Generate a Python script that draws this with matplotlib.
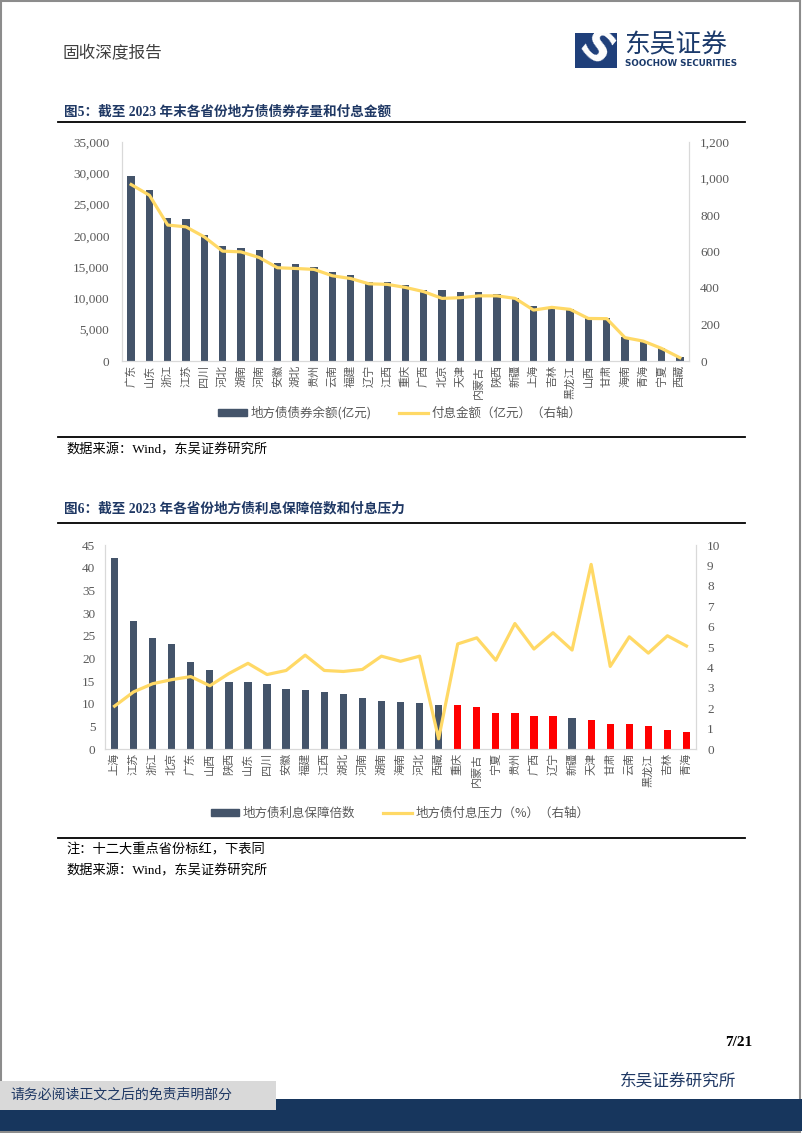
import numpy as np
import matplotlib.pyplot as plt
from matplotlib.patches import Rectangle, Patch
from matplotlib.lines import Line2D
from matplotlib.ticker import FuncFormatter

CJK = ['Noto Sans CJK SC', 'DejaVu Sans']
MIX = ['Liberation Serif', 'Noto Sans CJK SC']
plt.rcParams['font.family'] = CJK

# chart 1 data: debt balance (100m yuan) and interest paid
prov1 = ['广东', '山东', '浙江', '江苏', '四川', '河北', '湖南', '河南', '安徽', '湖北',
         '贵州', '云南', '福建', '辽宁', '江西', '重庆', '广西', '北京', '天津', '内蒙古',
         '陕西', '新疆', '上海', '吉林', '黑龙江', '山西', '甘肃', '海南', '青海', '宁夏', '西藏']
balance = [29500, 27400, 22800, 22700, 20200, 18300, 18100, 17800, 15600, 15500,
           15000, 14300, 13700, 12700, 12600, 12100, 11300, 11300, 11000, 10950,
           10700, 10000, 8800, 8700, 8300, 6800, 6900, 3900, 3100, 2000, 700]
interest = [967, 908, 745, 735, 680, 602, 598, 567, 511, 507,
            502, 467, 452, 423, 420, 403, 380, 343, 347, 357,
            357, 343, 279, 294, 283, 233, 232, 128, 109, 69, 18]

# chart 2 data: interest coverage ratio and interest pressure (%)
prov2 = ['上海', '江苏', '浙江', '北京', '广东', '山西', '陕西', '山东', '四川', '安徽',
         '福建', '江西', '湖北', '河南', '湖南', '海南', '河北', '西藏', '重庆', '内蒙古',
         '宁夏', '贵州', '广西', '辽宁', '新疆', '天津', '甘肃', '云南', '黑龙江', '吉林', '青海']
coverage = [42.2, 28.3, 24.4, 23.1, 19.2, 17.5, 14.8, 14.8, 14.4, 13.2,
            13.1, 12.6, 12.2, 11.3, 10.5, 10.3, 10.1, 9.7, 9.6, 9.2,
            7.9, 7.9, 7.3, 7.2, 6.8, 6.5, 5.6, 5.6, 5.1, 4.2, 3.7]
pressure = [2.1, 2.8, 3.2, 3.4, 3.55, 3.1, 3.7, 4.2, 3.65, 3.85,
            4.6, 3.85, 3.8, 3.9, 4.55, 4.3, 4.55, 0.5, 5.15, 5.45,
            4.35, 6.15, 4.9, 5.7, 4.85, 9.05, 4.05, 5.5, 4.7, 5.55, 5.05]
key12 = ['重庆', '内蒙古', '宁夏', '贵州', '广西', '辽宁', '天津', '甘肃', '云南', '黑龙江', '吉林', '青海']

W, H = 802, 1133
NAVY_BAR = '#44546A'
YEL = '#FFD966'
GREY = '#595959'
AXC = '#D9D9D9'

fig = plt.figure(figsize=(W / 100, H / 100), dpi=100)


def fx(x):
    return x / W


def fy(y):
    return 1 - y / H


def box(x0, y0, x1, y1):
    return [fx(x0), fy(y1), fx(x1 - x0), (y1 - y0) / H]


# page frame
fig.patches.append(Rectangle((0.001, 0.001), 0.996, 0.998, transform=fig.transFigure,
                             fill=False, ec='#8c8c8c', lw=1.5))

# header
fig.text(fx(63), fy(53), '固收深度报告', fontsize=12, color='#404040', va='center')
fig.patches.append(Rectangle((fx(575), fy(68)), fx(42), 35 / H, transform=fig.transFigure,
                             fc='#1F3F7A', ec='none'))
fig.text(fx(596), fy(50), 'S', fontsize=30, fontweight='bold', color='white',
         ha='center', va='center', rotation=-40, family='DejaVu Sans')
fig.text(fx(624), fy(45), '东吴证券', fontsize=18.5, color='#1B3A6B', va='center')
fig.text(fx(625), fy(64), 'SOOCHOW SECURITIES', fontsize=6.3, fontweight='bold',
         color='#1B3A6B', va='center', family='DejaVu Sans')

title_col = '#1F3864'
fig.text(fx(64), fy(112), '图5：截至 2023 年末各省份地方债债券存量和付息金额', fontsize=9.8,
         fontweight='bold', color=title_col, va='center', family=MIX)
fig.text(fx(64), fy(509), '图6：截至 2023 年各省份地方债利息保障倍数和付息压力', fontsize=9.8,
         fontweight='bold', color=title_col, va='center', family=MIX)
for yy in [122, 437, 523, 838]:
    fig.add_artist(Line2D([fx(58), fx(745)], [fy(yy), fy(yy)], color='black', lw=1.3))

fig.text(fx(66), fy(450), '数据来源：Wind，东吴证券研究所', fontsize=9.5, color='black',
         va='center', family=MIX)
fig.text(fx(66), fy(850), '注：十二大重点省份标红，下表同', fontsize=9.5, color='black',
         va='center', family=MIX)
fig.text(fx(66), fy(871), '数据来源：Wind，东吴证券研究所', fontsize=9.5, color='black',
         va='center', family=MIX)

# footer
fig.text(fx(752), fy(1043), '7/21', fontsize=11, fontweight='bold', ha='right',
         va='center', family='Liberation Serif')
fig.text(fx(620), fy(1081), '东吴证券研究所', fontsize=12, color='#1F3864', va='center')
fig.patches.append(Rectangle((0, fy(1131)), 1, 32 / H, transform=fig.transFigure,
                             fc='#17365D', ec='none'))
fig.patches.append(Rectangle((0, fy(1110)), fx(276), 29 / H, transform=fig.transFigure,
                             fc='#D9D9D9', ec='none'))
fig.text(fx(10), fy(1095), '请务必阅读正文之后的免责声明部分', fontsize=10, color='#1F3864',
         va='center')


def style_axes(ax, ax2):
    for a in (ax, ax2):
        a.spines['top'].set_visible(False)
        for s in ('left', 'right', 'bottom'):
            a.spines[s].set_color(AXC)
        a.tick_params(length=0, colors=GREY, labelsize=9.5)
    ax.tick_params(axis='x', pad=3, labelsize=8)
    for lab in ax.get_yticklabels() + ax2.get_yticklabels():
        lab.set_family('Liberation Serif')


thou = FuncFormatter(lambda v, p: f'{v:,.0f}')

# chart 1
ax = fig.add_axes(box(122, 142, 689, 361))
x = np.arange(len(prov1))
ax.bar(x, balance, width=0.4, color=NAVY_BAR)
ax.set_xlim(-0.5, len(prov1) - 0.5)
ax.set_ylim(0, 35000)
ax.set_yticks(np.arange(0, 35001, 5000))
ax.yaxis.set_major_formatter(thou)
ax.set_xticks(x)
ax.set_xticklabels(prov1, rotation=90)
ax2 = ax.twinx()
ax2.plot(x, interest, color=YEL, lw=2.3)
ax2.set_ylim(0, 1200)
ax2.set_yticks(np.arange(0, 1201, 200))
ax2.yaxis.set_major_formatter(thou)
style_axes(ax, ax2)
ax.tick_params(axis='y', pad=9)
ax2.tick_params(axis='y', pad=8)
fig.legend([Patch(color=NAVY_BAR), Line2D([], [], color=YEL, lw=2.3)],
           ['地方债债券余额(亿元)', '付息金额（亿元）（右轴）'],
           loc='center', bbox_to_anchor=(fx(400), fy(413)), ncol=2, frameon=False,
           fontsize=9, labelcolor=GREY, handlelength=2.3, handleheight=0.5,
           columnspacing=2.2, handletextpad=0.3)

# chart 2
bx = fig.add_axes(box(105, 545, 696, 749))
x2 = np.arange(len(prov2))
cols = ['#FF0000' if p in key12 else NAVY_BAR for p in prov2]
bx.bar(x2, coverage, width=0.38, color=cols)
bx.set_xlim(-0.5, len(prov2) - 0.5)
bx.set_ylim(0, 45)
bx.set_yticks(np.arange(0, 46, 5))
bx.set_xticks(x2)
bx.set_xticklabels(prov2, rotation=90)
bx2 = bx.twinx()
bx2.plot(x2, pressure, color=YEL, lw=2.3)
bx2.set_ylim(0, 10)
bx2.set_yticks(np.arange(0, 11, 1))
style_axes(bx, bx2)
bx.tick_params(axis='y', pad=7)
bx2.tick_params(axis='y', pad=8)
fig.legend([Patch(color=NAVY_BAR), Line2D([], [], color=YEL, lw=2.3)],
           ['地方债利息保障倍数', '地方债付息压力（%）（右轴）'],
           loc='center', bbox_to_anchor=(fx(400), fy(813)), ncol=2, frameon=False,
           fontsize=9, labelcolor=GREY, handlelength=2.3, handleheight=0.5,
           columnspacing=2.2, handletextpad=0.3)

fig.savefig('out.png', dpi=100)
